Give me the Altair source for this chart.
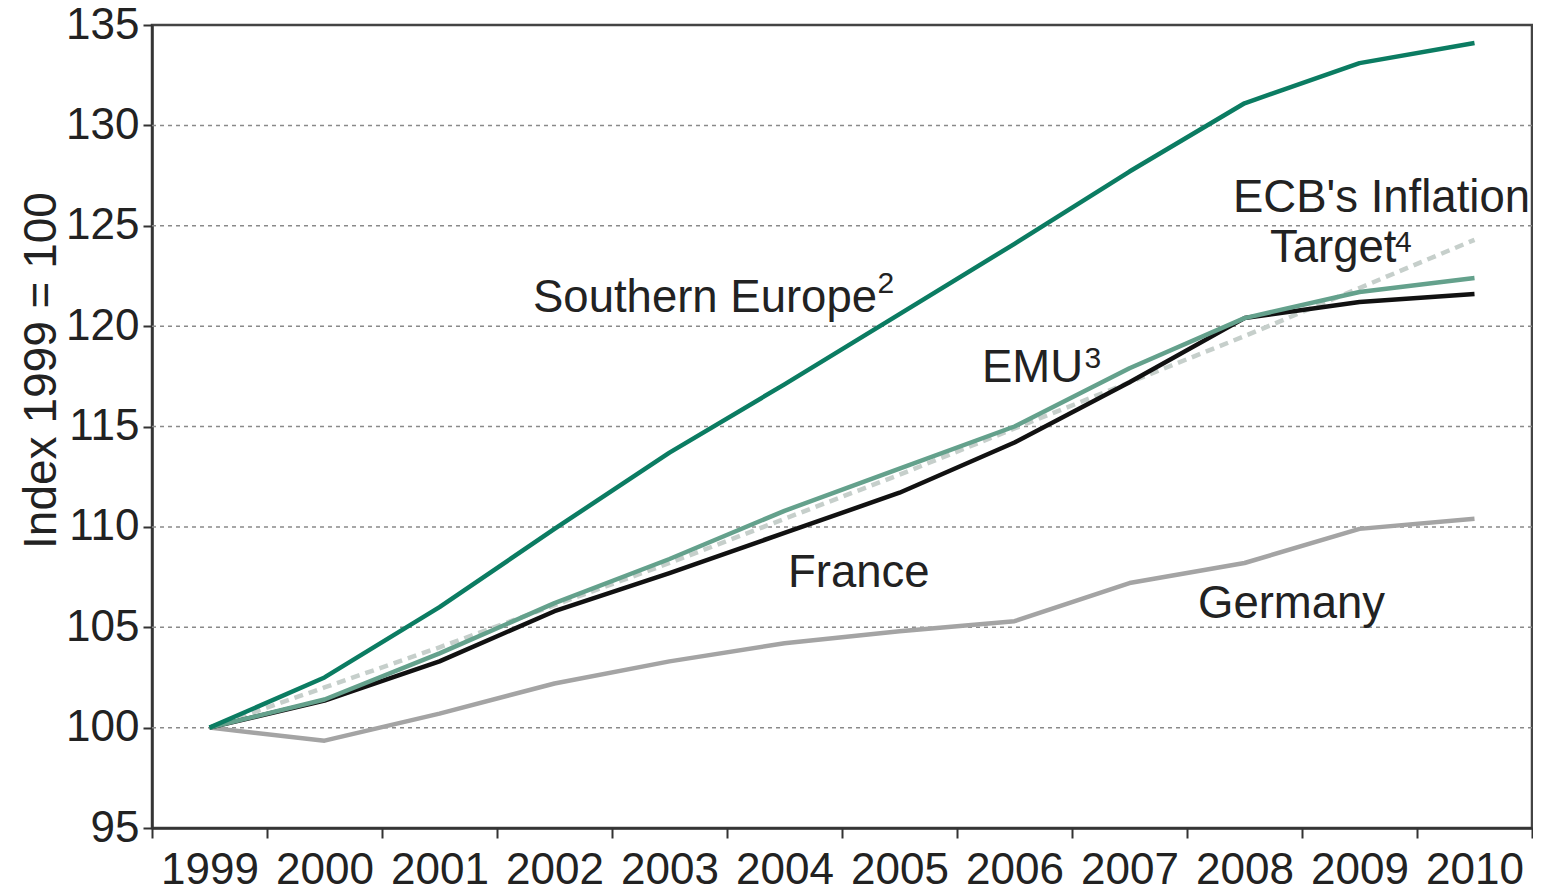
import altair as alt
import pandas as pd

years = ["1999", "2000", "2001", "2002", "2003", "2004", "2005", "2006", "2007", "2008", "2009", "2010"]

southern_europe = [100, 102.5, 106.0, 109.9, 113.7, 117.1, 120.6, 124.1, 127.7, 131.1, 133.1, 134.1]
emu = [100, 101.4, 103.7, 106.2, 108.4, 110.8, 112.9, 115.0, 117.9, 120.4, 121.7, 122.4]
france = [100, 101.35, 103.3, 105.8, 107.7, 109.7, 111.7, 114.2, 117.2, 120.4, 121.2, 121.6]
germany = [100, 99.35, 100.7, 102.2, 103.3, 104.2, 104.8, 105.3, 107.2, 108.2, 109.9, 110.4]
ecb_target = [100, 102.0, 104.0, 106.1, 108.2, 110.4, 112.6, 114.9, 117.2, 119.5, 121.9, 124.3]

y_ticks = [95, 100, 105, 110, 115, 120, 125, 130, 135]
grid_values = [100, 105, 110, 115, 120, 125, 130]

# series labels: text, anchor year, anchor value (baseline)
label_text = ["Southern Europe", "EMU", "France", "Germany", "ECB's Inflation", "Target"]
label_year = ["2003", "2006", "2005", "2008", "2009", "2009"]
label_value = [120.7, 117.22, 107.0, 105.46, 125.68, 123.19]
label_dx = [-136.5, -32.5, -111.5, -46.5, -126.5, -89.5]

sup_text = ["2", "3", "4"]
sup_year = ["2003", "2006", "2009"]
sup_value = [121.65, 117.91, 123.69]
sup_dx = [208, 70, 35.5]

FONT = "Liberation Sans"
AXIS_COLOR = "#333333"
TEXT_COLOR = "#222222"

series = [
    ("Germany", germany, "#a4a4a4", None),
    ("ECB target", ecb_target, "#c6cfcb", [9, 6]),
    ("France", france, "#111111", None),
    ("EMU", emu, "#64a18c", None),
    ("Southern Europe", southern_europe, "#0b7c62", None),
]

x_enc = alt.X(
    "year:O",
    scale=alt.Scale(type="band", domain=years, paddingInner=0, paddingOuter=0),
    axis=alt.Axis(
        title=None,
        labelAngle=0,
        tickBand="extent",
        labelFontSize=44,
        labelFont=FONT,
        labelColor=TEXT_COLOR,
        labelPadding=10,
        tickSize=10,
        tickWidth=2,
        tickColor=AXIS_COLOR,
        domainColor=AXIS_COLOR,
        domainWidth=2.5,
        grid=False,
    ),
)
y_scale = alt.Scale(domain=[95, 135], nice=False, zero=False)
y_enc = alt.Y(
    "value:Q",
    scale=y_scale,
    axis=alt.Axis(
        values=y_ticks,
        title="Index 1999 = 100",
        titleFont=FONT,
        titleFontSize=46,
        titleFontWeight="normal",
        titleColor=TEXT_COLOR,
        titleAngle=270,
        titleAlign="center",
        titleBaseline="alphabetic",
        titleX=-97,
        titleY=345,
        labelFontSize=44,
        labelFont=FONT,
        labelColor=TEXT_COLOR,
        labelPadding=4,
        tickSize=9,
        tickWidth=2,
        tickColor=AXIS_COLOR,
        domainColor=AXIS_COLOR,
        domainWidth=2.5,
        grid=False,
    ),
)

layers = []

grid_df = pd.DataFrame({"value": grid_values})
layers.append(
    alt.Chart(grid_df)
    .mark_rule(color="#8a8a8a", strokeDash=[4, 4], strokeWidth=1.5)
    .encode(y=alt.Y("value:Q", scale=y_scale))
)

for name, vals, color, dash in series:
    df = pd.DataFrame({"year": years, "value": vals, "series": name})
    kw = dict(color=color, strokeWidth=4.5, strokeJoin="round", strokeCap="butt")
    if dash:
        kw["strokeDash"] = dash
    layers.append(alt.Chart(df).mark_line(**kw).encode(x=x_enc, y=y_enc))

for t, yr, v, dx in zip(label_text, label_year, label_value, label_dx):
    ldf = pd.DataFrame({"year": [yr], "value": [v], "label": [t]})
    layers.append(
        alt.Chart(ldf)
        .mark_text(font=FONT, fontSize=45.5, color=TEXT_COLOR, align="left", baseline="alphabetic", dx=dx)
        .encode(x=x_enc, y=y_enc, text="label:N")
    )

for t, yr, v, dx in zip(sup_text, sup_year, sup_value, sup_dx):
    sdf = pd.DataFrame({"year": [yr], "value": [v], "label": [t]})
    layers.append(
        alt.Chart(sdf)
        .mark_text(font=FONT, fontSize=30, color=TEXT_COLOR, align="left", baseline="alphabetic", dx=dx)
        .encode(x=x_enc, y=y_enc, text="label:N")
    )

chart = (
    alt.layer(*layers)
    .properties(
        width=1380,
        height=803,
        autosize=alt.AutoSizeParams(type="none"),
        padding={"left": 144, "top": 17, "right": 1, "bottom": 65},
    )
    .configure(background="white")
    .configure_view(stroke="#444444", strokeWidth=2.5)
)

chart.save("out.html", embed_options={"renderer": "svg", "actions": False})
